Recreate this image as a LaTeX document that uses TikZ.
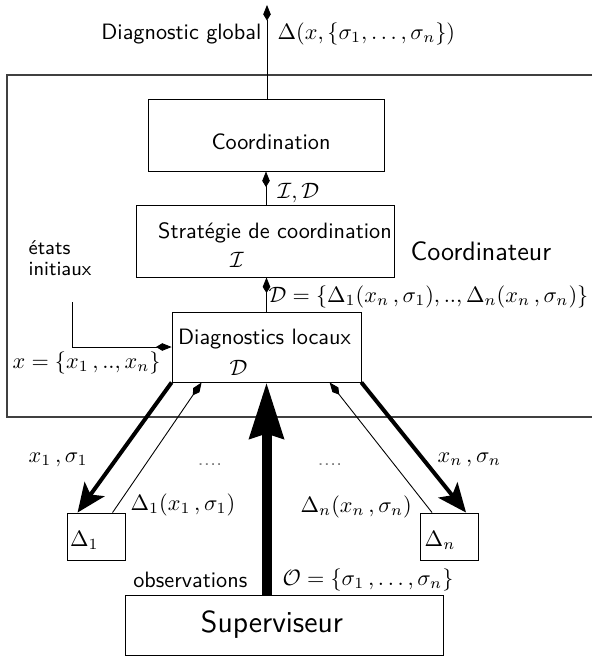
\documentclass[tikz,border=0pt]{standalone}
\usepackage{amsmath,amssymb}
\usetikzlibrary{arrows.meta,positioning,calc}
\renewcommand{\familydefault}{\sfdefault}
\tikzset{
        block/.style = {draw, fill=white, rectangle, inner sep=0pt},
        line/.style = {draw, -{Kite[length=7pt,width=3.4pt,inset=2.8pt]}},
        thickline/.style = {draw, line width=1.8pt, -{Stealth[length=13pt,width=11pt,inset=3pt]}},
        bigline/.style = {draw, line width=4.5pt, -{Stealth[length=25pt,width=15pt,inset=2pt]}}}

\begin{document}
\begin{tikzpicture}[x=0.45pt,y=-0.45pt, every node/.style={inner sep=1pt}]
            \useasboundingbox (0,0) rectangle (592,657);
            % coordinateur
            \draw[line width=0.6pt, black!75] (592,75) -- (7,75) -- (7,417) -- (592,417);
            \node [anchor=west, font=\large] (coordtxt) at (408,251) {Coordinateur};

            \node [block, minimum width=106.2pt, minimum height=32pt] (coord) at (266,135.5) {};
            \node (coordlbl) at ($(coord)+(5,6)$) {Coordination};
            \node [block, minimum width=116.1pt, minimum height=32pt] (strat) at (265,241.5) {};
            \node (stratlbl) at ($(strat)+(10,-9)$) {Stratégie de coordination};
            \node (stratI) at ($(strat)+(-28,18)$) {$\mathcal{I}$};
            \node [block, minimum width=85pt, minimum height=31.5pt] (diag) at (266.5,347) {};
            \node (diaglbl) at ($(diag)+(-2,-8)$) {Diagnostics locaux};
            \node (diagD) at ($(diag)+(-28,21)$) {$\mathcal{D}$};
            \node [block, minimum width=26.1pt, minimum height=21.15pt] (d1) at (96,536.5) {};
            \node [anchor=west] (d1lbl) at ($(d1.west)+(1,4)$) {$\Delta_1$};
            \node [block, minimum width=26.1pt, minimum height=21.15pt] (dn) at (449.5,536.5) {};
            \node [anchor=west] (dnlbl) at ($(dn.west)+(2,4)$) {$\Delta_n$};
            \node [block, minimum width=143.1pt, minimum height=27pt] (sup) at (284,625) {};
            \node [font=\fontsize{13.7}{16}\selectfont] (suplbl) at ($(sup)+(-12,0)$) {Superviseur};

            \coordinate (glob) at (267,5);
            \coordinate (init) at (72,302);

            \begin{scope}[line]
            \draw (coord.north -| glob) -- (glob);
            \draw (strat.north -| coord) -- (coord.south);
            \draw (diag.north) -- (strat.south -| diag.north);
            \draw (init) |- (diag.west);
            \draw ($(d1.north west)+(46,0)$) -- ($(diag.south west)+(30,0)$);
            \draw ($(dn.north west)+(12,0)$) -- ($(diag.south west)+(158,0)$);
            \end{scope}
            \draw[thickline] (diag.south west) -- ($(d1.north west)+(11,0)$);
            \draw[thickline] (diag.south east) -- ($(dn.north west)+(46,0)$);
            \draw[bigline] (sup.north -| diag.south) -- (diag.south);

            % labels
            \node [anchor=east] (globlbl) at (264,34) {Diagnostic global};
            \node [anchor=west] (globmath) at (275,34) {$\Delta(x,\{\sigma_1,\ldots,\sigma_n\})$};
            \node [anchor=west] (idlbl) at (275,193) {$\mathcal{I},\mathcal{D}$};
            \node [anchor=west] (dlbl) at (266,297) {$\mathcal{D}=\{\Delta_1(x_n\,,\sigma_1),..,\Delta_n(x_n\,,\sigma_n)\}$};
            \node [anchor=north west, align=left, font=\fontsize{9}{9.5}\selectfont] (initlbl) at (26,238) {états\\initiaux};
            \node [anchor=west] (xlbl) at (10,363) {$x=\{x_1\,,..,x_n\}$};
            \node [anchor=west] (x1lbl) at (26,460) {$x_1\,,\sigma_1$};
            \node [black!50] (dots1) at (210,465) {....};
            \node [black!50] (dotsn) at (330,465) {....};
            \node [anchor=west] (d1math) at (128,505) {$\Delta_1(x_1\,,\sigma_1)$};
            \node [anchor=west] (dnmath) at (298,507) {$\Delta_n(x_n\,,\sigma_n)$};
            \node [anchor=west] (xnlbl) at (435,460) {$x_n\,,\sigma_n$};
            \node [anchor=east] (obslbl) at (250,580) {observations};
            \node [anchor=west] (obsmath) at (280,580) {$\mathcal{O}=\{\sigma_1\,,\ldots,\sigma_n\}$};
    \end{tikzpicture}
\end{document}
